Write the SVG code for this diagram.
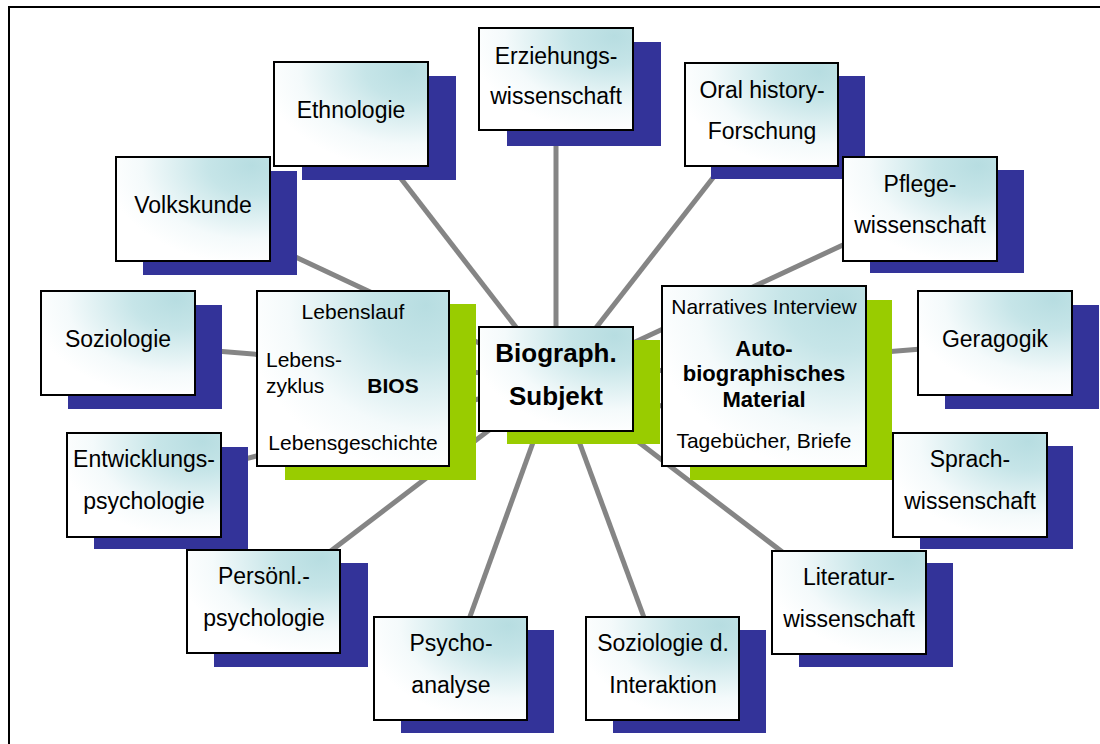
<svg xmlns="http://www.w3.org/2000/svg" width="1100" height="744" viewBox="0 0 1100 744">
<defs>
<radialGradient id="g" cx="0.88" cy="0.08" r="0.95">
<stop offset="0" stop-color="#b7dde1"/>
<stop offset="0.3" stop-color="#c6e5e8"/>
<stop offset="0.75" stop-color="#f4fafb"/>
<stop offset="1" stop-color="#ffffff"/>
</radialGradient>
</defs>
<style>
.bx{fill:url(#g);stroke:#000;stroke-width:2}
.sh{fill:#333399}
.gs{fill:#99cc00}
.t{font-family:"Liberation Sans",Arial,sans-serif;font-size:23px;fill:#000;text-anchor:middle}
.c{font-family:"Liberation Sans",Arial,sans-serif;font-size:21px;fill:#000;text-anchor:middle}
.b{font-weight:bold}
.con line{stroke:#858585;stroke-width:5}
</style>
<rect x="9" y="7" width="1200" height="800" fill="#fff" stroke="#000" stroke-width="2"/>
<g id="connectors" class="con">
<line x1="556" y1="379" x2="556" y2="80"/>
<line x1="556" y1="379" x2="351" y2="114"/>
<line x1="556" y1="379" x2="762" y2="115"/>
<line x1="556" y1="379" x2="193" y2="209"/>
<line x1="556" y1="379" x2="920" y2="209"/>
<line x1="556" y1="379" x2="118" y2="343"/>
<line x1="556" y1="379" x2="995" y2="343"/>
<line x1="556" y1="379" x2="144" y2="485"/>
<line x1="556" y1="379" x2="970" y2="485"/>
<line x1="556" y1="379" x2="264" y2="602"/>
<line x1="556" y1="379" x2="849" y2="603"/>
<line x1="556" y1="379" x2="451" y2="669"/>
<line x1="556" y1="379" x2="663" y2="669"/>
</g>
<g id="erziehung"><rect class="sh" x="507" y="42" width="154" height="104"/><rect class="bx" x="479" y="28" width="154" height="102"/><text class="t" x="556" y="64">Erziehungs-</text><text class="t" x="556" y="104">wissenschaft</text></g>
<g id="ethnologie"><rect class="sh" x="302" y="76" width="154" height="104"/><rect class="bx" x="274" y="62" width="154" height="104"/><text class="t" x="351" y="118">Ethnologie</text></g>
<g id="oralhistory"><rect class="sh" x="711" y="76" width="154" height="103"/><rect class="bx" x="685" y="63" width="153" height="103"/><text class="t" x="762" y="98">Oral history-</text><text class="t" x="762" y="139">Forschung</text></g>
<g id="volkskunde"><rect class="sh" x="143" y="171" width="154" height="104"/><rect class="bx" x="116" y="157" width="154" height="104"/><text class="t" x="193" y="213">Volkskunde</text></g>
<g id="pflege"><rect class="sh" x="870" y="170" width="154" height="103"/><rect class="bx" x="843" y="157" width="154" height="104"/><text class="t" x="920" y="192">Pflege-</text><text class="t" x="920" y="233">wissenschaft</text></g>
<g id="soziologie"><rect class="sh" x="68" y="305" width="154" height="104"/><rect class="bx" x="41" y="291" width="154" height="104"/><text class="t" x="118" y="347">Soziologie</text></g>
<g id="geragogik"><rect class="sh" x="945" y="305" width="154" height="104"/><rect class="bx" x="918" y="291" width="154" height="104"/><text class="t" x="995" y="347">Geragogik</text></g>
<g id="entwicklung"><rect class="sh" x="94" y="447" width="154" height="102"/><rect class="bx" x="67" y="433" width="154" height="104"/><text class="t" x="144" y="467">Entwicklungs-</text><text class="t" x="144" y="509">psychologie</text></g>
<g id="sprach"><rect class="sh" x="920" y="446" width="153" height="103"/><rect class="bx" x="893" y="433" width="154" height="104"/><text class="t" x="970" y="467">Sprach-</text><text class="t" x="970" y="509">wissenschaft</text></g>
<g id="persoenl"><rect class="sh" x="214" y="563" width="154" height="104"/><rect class="bx" x="187" y="550" width="153" height="103"/><text class="t" x="264" y="584">Persönl.-</text><text class="t" x="264" y="626">psychologie</text></g>
<g id="literatur"><rect class="sh" x="799" y="563" width="154" height="104"/><rect class="bx" x="772" y="551" width="154" height="103"/><text class="t" x="849" y="585">Literatur-</text><text class="t" x="849" y="627">wissenschaft</text></g>
<g id="psychoanalyse"><rect class="sh" x="401" y="630" width="153" height="103"/><rect class="bx" x="374" y="617" width="153" height="103"/><text class="t" x="451" y="651">Psycho-</text><text class="t" x="451" y="693">analyse</text></g>
<g id="interaktion"><rect class="sh" x="613" y="630" width="153" height="103"/><rect class="bx" x="586" y="617" width="153" height="103"/><text class="t" x="663" y="651">Soziologie d.</text><text class="t" x="663" y="693">Interaktion</text></g>
<g id="bios"><rect class="gs" x="285" y="304" width="191" height="176"/><rect class="bx" x="257" y="291" width="192" height="175"/><text class="c" x="353" y="319">Lebenslauf</text><text class="c" x="266" y="367" style="text-anchor:start">Lebens-</text><text class="c" x="266" y="393" style="text-anchor:start">zyklus</text><text class="c b" x="393" y="393">BIOS</text><text class="c" x="353" y="450">Lebensgeschichte</text></g>
<g id="subjekt"><rect class="gs" x="507" y="340" width="153" height="104"/><rect class="bx" x="479" y="327" width="154" height="104"/><text class="c b" x="556" y="362" style="font-size:26px">Biograph.</text><text class="c b" x="556" y="405" style="font-size:26px">Subjekt</text></g>
<g id="material"><rect class="gs" x="690" y="300" width="202" height="180"/><rect class="bx" x="662" y="286" width="204" height="180"/><text class="c" x="764" y="314">Narratives Interview</text><text class="c b" x="764" y="356" style="font-size:22px">Auto-</text><text class="c b" x="764" y="381" style="font-size:22px">biographisches</text><text class="c b" x="764" y="407" style="font-size:22px">Material</text><text class="c" x="764" y="448">Tagebücher, Briefe</text></g>
</svg>
